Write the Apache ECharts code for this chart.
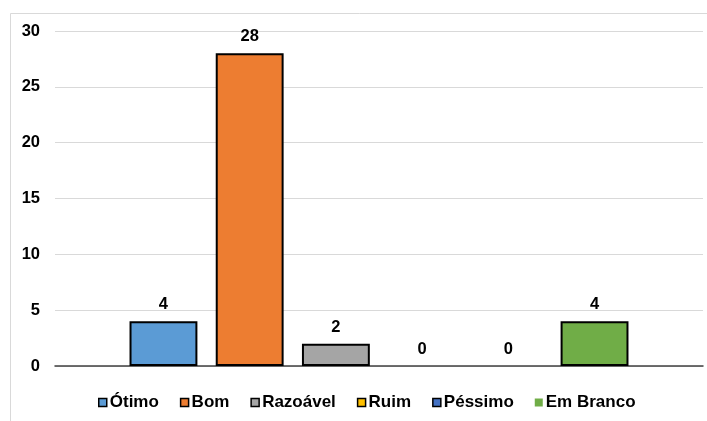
<!DOCTYPE html>
<html>
<head>
<meta charset="utf-8">
<script src="https://cdn.jsdelivr.net/npm/echarts@6/dist/echarts.min.js"></script>
<style>
  html, body { margin: 0; padding: 0; background: #fff; }
  #chart { width: 707px; height: 421px; }
</style>
</head>
<body>
<div id="chart"></div>
<script>
// Avaliação: número de respostas por opção
const categories = ['Avaliação'];
const seriesNames = ['Ótimo', 'Bom', 'Razoável', 'Ruim', 'Péssimo', 'Em Branco'];
const seriesValues = [4, 28, 2, 0, 0, 4];
const seriesColors = ['#5B9BD5', '#ED7D31', '#A5A5A5', '#FFC000', '#4472C4', '#70AD47'];
const yTicks = [0, 5, 10, 15, 20, 25, 30];

const font = 'Liberation Sans, Arial, sans-serif';

const chart = echarts.init(document.getElementById('chart'));

const series = seriesNames.map((name, i) => ({
  name: name,
  type: 'bar',
  data: [seriesValues[i]],
  barGap: '27%',
  barCategoryGap: '23%',
  // empty bars get no outline so nothing shows on the baseline
  itemStyle: {
    color: seriesColors[i],
    borderColor: '#000',
    borderWidth: seriesValues[i] === 0 ? 0 : 2
  },
  label: {
    show: true,
    position: 'top',
    distance: 8,
    color: '#000',
    fontWeight: 'bold',
    fontSize: 16.5,
    fontFamily: font
  }
}));

chart.setOption({
  animation: false,
  backgroundColor: '#fff',
  graphic: [{
    type: 'rect',
    shape: { x: 10.5, y: 13.5, width: 720, height: 440 },
    style: { fill: 'none', stroke: '#d9d9d9', lineWidth: 1 },
    silent: true
  }],
  grid: { left: 55, right: 4, top: 31, bottom: 55 },
  legend: {
    bottom: 5,
    left: 93,
    itemWidth: 8,
    itemHeight: 8,
    itemGap: 21,
    icon: 'rect',
    textStyle: { color: '#000', fontWeight: 'bold', fontSize: 17, fontFamily: font, padding: [0, 0, 0, -2] },
    data: seriesNames.map((name, i) => ({
      name: name,
      itemStyle: i === 5
        ? { color: seriesColors[i], borderWidth: 0 }
        : { color: seriesColors[i], borderColor: '#000', borderWidth: 1.5 }
    }))
  },
  xAxis: {
    type: 'category',
    data: categories,
    axisLine: { show: true, lineStyle: { color: '#404040', width: 1.5 } },
    axisTick: { show: false },
    axisLabel: { show: false }
  },
  yAxis: {
    type: 'value',
    min: yTicks[0],
    max: yTicks[yTicks.length - 1],
    interval: 5,
    axisLine: { show: false },
    axisTick: { show: false },
    splitLine: { show: true, lineStyle: { color: '#d9d9d9', width: 1 } },
    axisLabel: {
      color: '#000',
      fontWeight: 'bold',
      fontSize: 16.5,
      fontFamily: font,
      margin: 15
    }
  },
  series: series
});
</script>
</body>
</html>
